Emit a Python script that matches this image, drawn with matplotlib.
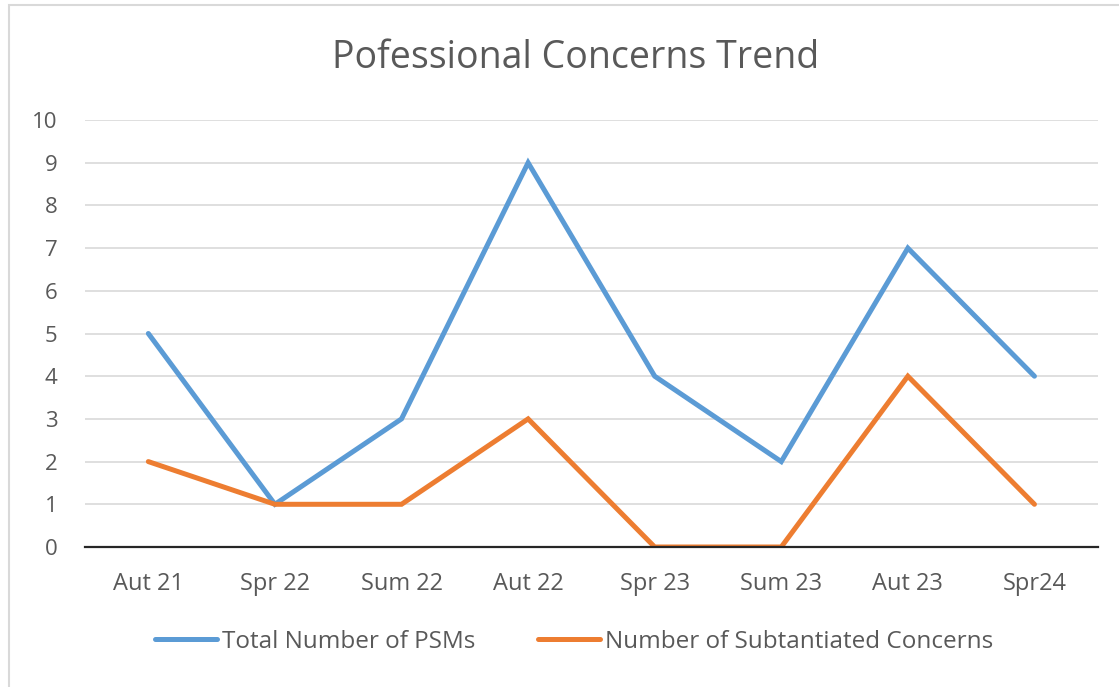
import matplotlib as mpl
mpl.use('Agg')

import matplotlib.pyplot as plt
from matplotlib.patches import Rectangle

terms = ['Aut 21', 'Spr 22', 'Sum 22', 'Aut 22', 'Spr 23', 'Sum 23', 'Aut 23', 'Spr24']
total_psms = [5, 1, 3, 9, 4, 2, 7, 4]
substantiated = [2, 1, 1, 3, 0, 0, 4, 1]

text_col = '#595959'
plt.rcParams['font.family'] = ['Open Sans', 'DejaVu Sans']


def main():
    fig = plt.figure(figsize=(11.19, 6.87), dpi=100)
    ax = fig.add_axes([0.076, 0.2038, 0.905, 0.6215])

    x = list(range(len(terms)))
    ax.plot(x, total_psms, color='#5B9BD5', lw=3.6, solid_joinstyle='miter',
            solid_capstyle='round', label='Total Number of PSMs', zorder=3)
    ax.plot(x, substantiated, color='#ED7D31', lw=3.6, solid_joinstyle='miter',
            solid_capstyle='round', label='Number of Subtantiated Concerns', zorder=3)

    ax.set_xlim(-0.5, len(terms) - 0.5)
    ax.set_ylim(0, 10)
    ax.set_yticks(range(0, 11))
    ax.set_xticks(x)
    ax.set_xticklabels(terms)
    ax.tick_params(length=0, labelsize=17, colors=text_col, pad=18)
    ax.tick_params(axis='y', labelsize=16, pad=20)
    ax.yaxis.grid(True, color='#D9D9D9', lw=1.2)
    ax.set_axisbelow(True)
    for side in ['top', 'right', 'left']:
        ax.spines[side].set_visible(False)
    ax.spines['bottom'].set_color('#262626')
    ax.spines['bottom'].set_linewidth(1.6)
    ax.spines['bottom'].set_zorder(4)

    fig.text(0.514, 0.915, 'Pofessional Concerns Trend', ha='center', va='center',
             fontsize=27, color=text_col)

    fig.legend(loc='center', bbox_to_anchor=(0.513, 0.0655), ncol=2, frameon=False,
               fontsize=17.5, labelcolor=text_col, handlelength=2.55, handletextpad=0.2,
               columnspacing=2.6)

    # light frame around the chart area
    fig.patches.append(Rectangle((9 / 1119, -0.1), 1.2, 1 - 5 / 687 + 0.1,
                                 transform=fig.transFigure, fill=False,
                                 edgecolor='#D9D9D9', lw=1.5))

    plt.savefig('out.png', dpi=100)


if __name__ == '__main__':
    main()
